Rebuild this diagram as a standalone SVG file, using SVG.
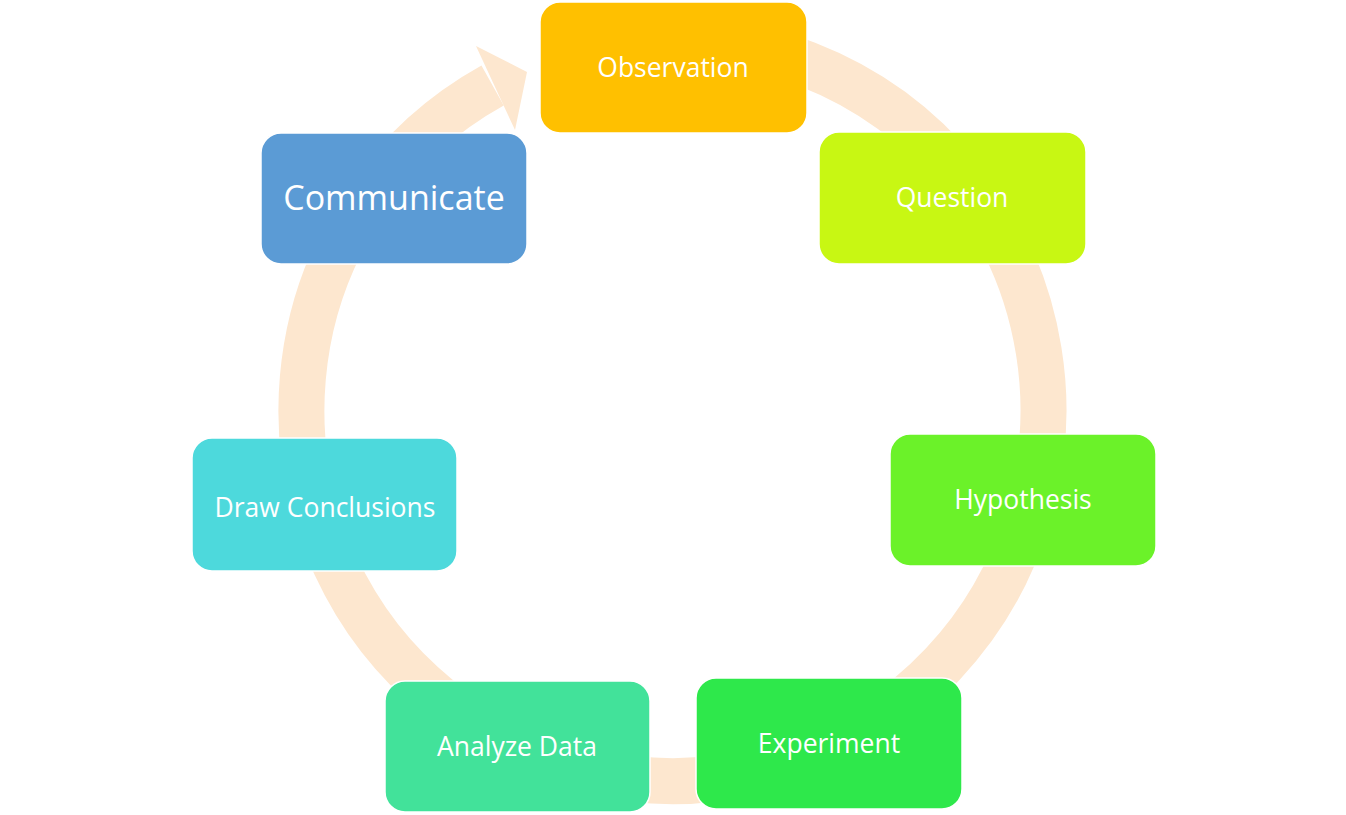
<svg xmlns="http://www.w3.org/2000/svg" width="1346" height="815" viewBox="0 0 1346 815">
<style>
.node rect{stroke:#ffffff;stroke-width:1.5}
.node text{font-family:"Open Sans","Noto Sans",sans-serif;font-size:26.5px;fill:#ffffff;text-anchor:middle}
.ring{fill:none;stroke:#FDE7CF;stroke-width:46}
.head{fill:#FDE7CF}
</style>
<rect x="0" y="0" width="1346" height="815" fill="#ffffff"/>
<g id="connectors">
<path class="ring" d="M 640.2 40.4 A 371 371 0 1 1 492.6 85.5"/>
<polygon class="head" points="476,46 527,72 515,130"/>
</g>
<g id="observation" class="node">
<rect x="540" y="2" width="267" height="131" rx="20" fill="#FFC000"/>
<text x="673" y="77">Observation</text>
</g>
<g id="question" class="node">
<rect x="819" y="132" width="267" height="132" rx="20" fill="#C8F713"/>
<text x="952" y="207">Question</text>
</g>
<g id="hypothesis" class="node">
<rect x="890" y="434" width="266" height="132" rx="20" fill="#6BF229"/>
<text x="1023" y="509">Hypothesis</text>
</g>
<g id="experiment" class="node">
<rect x="696" y="678" width="266" height="131" rx="20" fill="#2EE84B"/>
<text x="829" y="753">Experiment</text>
</g>
<g id="analyze-data" class="node">
<rect x="385" y="681" width="265" height="131" rx="20" fill="#42E29A"/>
<text x="517" y="756">Analyze Data</text>
</g>
<g id="draw-conclusions" class="node">
<rect x="192" y="438" width="265" height="133" rx="20" fill="#4DD9DC"/>
<text x="325" y="517">Draw Conclusions</text>
</g>
<g id="communicate" class="node">
<rect x="261" y="133" width="266" height="131" rx="20" fill="#5B9BD5"/>
<text x="394" y="210" style="font-size:34px">Communicate</text>
</g>
</svg>
